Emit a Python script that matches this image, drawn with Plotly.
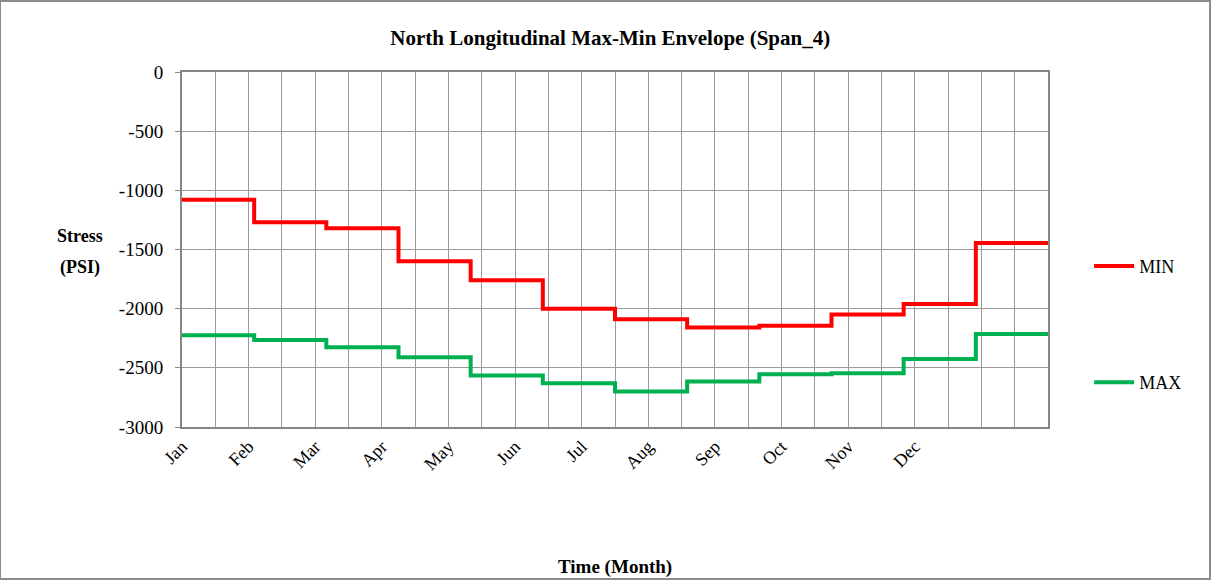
import plotly.graph_objects as go

# Monthly envelope values (PSI); one value per month, Jan..Dec
months = ["Jan", "Feb", "Mar", "Apr", "May", "Jun",
          "Jul", "Aug", "Sep", "Oct", "Nov", "Dec"]
min_stress = [-1080, -1270, -1320, -1600, -1760, -2000,
              -2090, -2160, -2145, -2050, -1960, -1445]
max_stress = [-2225, -2265, -2325, -2410, -2565, -2630,
              -2700, -2615, -2555, -2545, -2425, -2215]
y_ticks = [0, -500, -1000, -1500, -2000, -2500, -3000]

# Step positions: month i spans [i, i+1]; the last level is held to 12
x_steps = list(range(len(months) + 1))
min_steps = min_stress + [min_stress[-1]]
max_steps = max_stress + [max_stress[-1]]

# Category grid of 26 divisions; month labels on every second line
n_div = 26
grid_vals = [i * 12 / n_div for i in range(n_div + 1)]
grid_text = [months[i // 2] if (i % 2 == 0 and i // 2 < len(months)) else ""
             for i in range(n_div + 1)]

serif = "Liberation Serif, Times New Roman, serif"

fig = go.Figure()
fig.add_trace(go.Scatter(
    x=x_steps, y=min_steps, mode="lines", name="MIN",
    line=dict(color="#FF0000", width=4, shape="hv"),
    legendgroup="min",
))
fig.add_trace(go.Scatter(
    x=x_steps, y=max_steps, mode="lines", name="MAX",
    line=dict(color="#00B050", width=4, shape="hv"),
    legendgroup="max",
))

fig.update_layout(
    width=1212, height=581,
    margin=dict(l=182, r=164, t=72, b=154),
    paper_bgcolor="white", plot_bgcolor="white",
    font=dict(family=serif, size=18, color="black"),
    title=dict(
        text="<b>North Longitudinal Max-Min Envelope (Span_4)</b>",
        x=0.5035, xanchor="center", y=0.935, yanchor="middle",
        font=dict(family=serif, size=21, color="black"),
    ),
    legend=dict(
        x=1.0475, xanchor="left", y=0.505, yanchor="top",
        tracegroupgap=90, bgcolor="rgba(0,0,0,0)",
        font=dict(family=serif, size=18, color="black"),
        itemwidth=40,
    ),
    showlegend=True,
)

fig.update_xaxes(
    range=[0, 12],
    tickmode="array", tickvals=grid_vals, ticktext=grid_text,
    tickangle=-45, ticks="",
    showgrid=True, gridcolor="#9A9A9A", gridwidth=1,
    showline=True, linecolor="#868686", linewidth=2, mirror=True,
    zeroline=False,
    tickfont=dict(family=serif, size=18, color="black"),
)
fig.update_yaxes(
    range=[-3000, 0],
    tickmode="array", tickvals=y_ticks, ticktext=[str(v) for v in y_ticks],
    ticks="outside", ticklen=5, tickcolor="#868686", tickwidth=1,
    ticklabelstandoff=8,
    showgrid=True, gridcolor="#9A9A9A", gridwidth=1,
    showline=True, linecolor="#868686", linewidth=2, mirror=True,
    zeroline=False,
    tickfont=dict(family=serif, size=19, color="black"),
)

# Axis titles
fig.add_annotation(
    text="<b>Stress</b>", xref="paper", yref="paper",
    x=-0.118, y=0.538, xanchor="center", yanchor="middle",
    showarrow=False,
    font=dict(family=serif, size=18, color="black"),
)
fig.add_annotation(
    text="<b>(PSI)</b>", xref="paper", yref="paper",
    x=-0.118, y=0.448, xanchor="center", yanchor="middle",
    showarrow=False,
    font=dict(family=serif, size=18, color="black"),
)
fig.add_annotation(
    text="<b>Time (Month)</b>", xref="paper", yref="paper",
    x=0.5, y=-0.395, xanchor="center", yanchor="middle",
    showarrow=False,
    font=dict(family=serif, size=19, color="black"),
)

# Outer chart frame
fig.add_shape(
    type="rect", xref="paper", yref="paper",
    x0=-182 / 866, x1=1 + 162 / 866, y0=-152 / 355, y1=1 + 71 / 355,
    line=dict(color="#8C8C8C", width=2), fillcolor="rgba(0,0,0,0)",
    layer="below",
)

fig.write_html("out.html")
